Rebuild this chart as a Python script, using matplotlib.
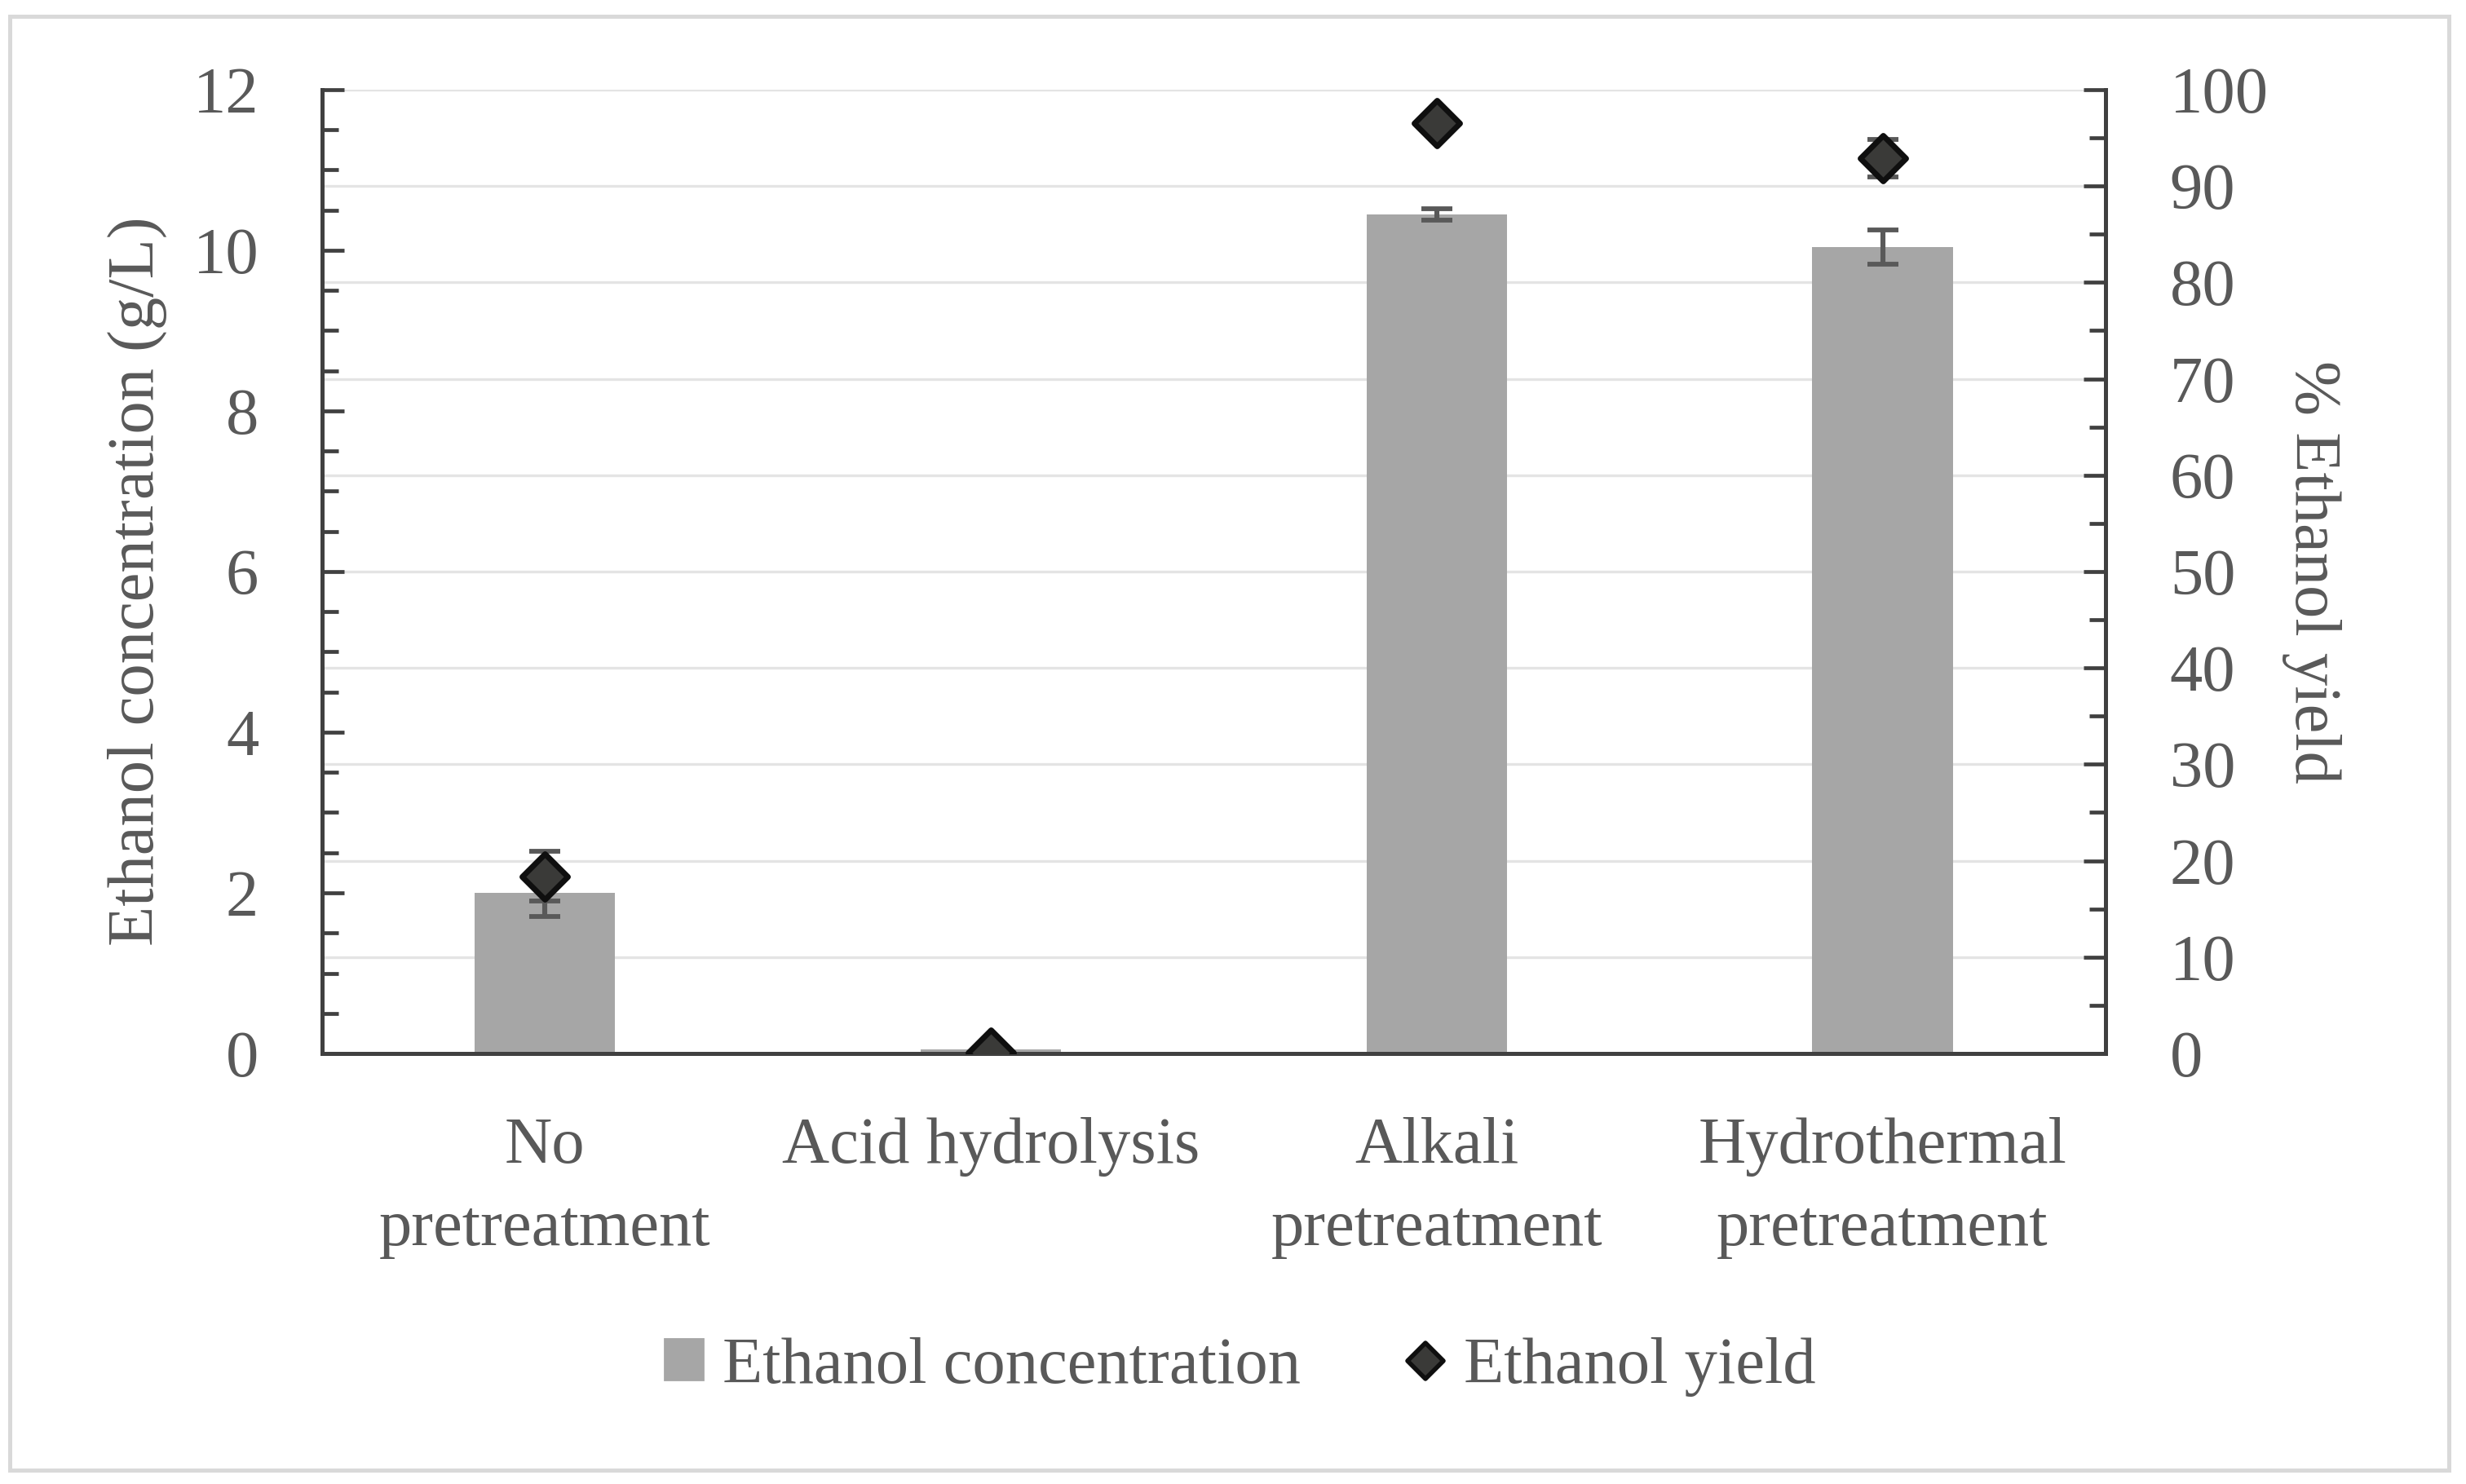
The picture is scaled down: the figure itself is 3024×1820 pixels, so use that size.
import numpy as np
import matplotlib.pyplot as plt
from matplotlib.patches import Rectangle
from matplotlib.lines import Line2D
from matplotlib.markers import MarkerStyle
from matplotlib.ticker import MultipleLocator

# data
categories = ["No\npretreatment", "Acid hydrolysis", "Alkali\npretreatment", "Hydrothermal\npretreatment"]
conc = [2.0, 0.05, 10.45, 10.04]        # g/L
conc_err = [0.29, 0.0, 0.07, 0.21]
yield_pct = [18.4, 0.1, 96.5, 92.9]     # %
yield_err = [2.6, 0.0, 0.5, 1.95]
yield_ticks = np.arange(10, 101, 10)

txt = '#595959'
spine_c = '#404040'
plt.rcParams['font.family'] = ['Liberation Serif', 'DejaVu Serif']
plt.rcParams['font.size'] = 29

fig = plt.figure(figsize=(15.12, 9.1), dpi=200)
ax = fig.add_axes([0.1306, 0.2901, 0.8538 - 0.1306, 0.9396 - 0.2901])
ax2 = ax.twinx()

# outer frame
fig.patches.append(Rectangle((0.004, 0.0095), 0.989, 0.9795, transform=fig.transFigure,
                             fill=False, edgecolor='#d9d9d9', linewidth=1.8))

x = np.arange(len(categories))

# grid follows the right axis major ticks, drawn behind the bars
for v in yield_ticks:
    ax.axhline(v * 12 / 100, color='#e4e4e4', linewidth=1.2, zorder=0)

ax.bar(x, conc, width=0.315, color='#a6a6a6', zorder=2,
       yerr=conc_err, error_kw=dict(ecolor='#595959', elinewidth=2.2, capsize=6.8, capthick=2.1, zorder=3))

diamond = MarkerStyle('D', joinstyle='round')
ax2.errorbar(x, yield_pct, yerr=yield_err, fmt='none', ecolor='#595959',
             elinewidth=2.2, capsize=6.8, capthick=2.1, zorder=3)
ax2.plot(x, yield_pct, linestyle='none', marker=diamond, markersize=14.5,
         markerfacecolor='#3a3a38', markeredgecolor='#0f0f0f', markeredgewidth=2.5, zorder=4)

ax.set_xlim(-0.5, 3.5)
ax.set_ylim(0, 12)
ax2.set_ylim(0, 100)

ax.yaxis.set_major_locator(MultipleLocator(2))
ax.yaxis.set_minor_locator(MultipleLocator(0.5))
ax2.yaxis.set_major_locator(MultipleLocator(10))
ax2.yaxis.set_minor_locator(MultipleLocator(5))

ax.set_xticks(x)
ax.set_xticklabels(categories, linespacing=1.5)
ax.tick_params(axis='x', length=0, pad=28, colors=txt)
ax.tick_params(axis='y', which='major', direction='in', length=9.7, width=1.7, color=spine_c,
               labelcolor=txt, pad=28)
ax.tick_params(axis='y', which='minor', direction='in', length=7.2, width=1.7, color=spine_c)
ax2.tick_params(axis='y', which='major', direction='in', length=9.7, width=1.7, color=spine_c,
                labelcolor=txt, pad=28.4)
ax2.tick_params(axis='y', which='minor', direction='in', length=7.2, width=1.7, color=spine_c)

for a in (ax, ax2):
    a.spines['top'].set_visible(False)
    for s in ('left', 'right', 'bottom'):
        a.spines[s].set_color(spine_c)
        a.spines[s].set_linewidth(1.8)
ax.spines['right'].set_visible(False)
ax2.spines['left'].set_visible(False)
ax2.spines['bottom'].set_visible(False)

ax.set_ylabel('Ethanol concentration (g/L)', color=txt)
ax.yaxis.set_label_coords(-0.087, 0.49)
ax2.yaxis.set_label_position('right')
ax2.set_ylabel('% Ethanol yield', color=txt, rotation=270)
ax2.yaxis.label.set_va('bottom')
ax2.yaxis.set_label_coords(1.0988, 0.5)

handles = [Rectangle((0, 0), 1, 1, color='#a6a6a6'),
           Line2D([], [], linestyle='none', marker=diamond, markersize=11,
                  markerfacecolor='#3a3a38', markeredgecolor='#0f0f0f', markeredgewidth=2.0)]
leg = fig.legend(handles, ['Ethanol concentration', 'Ethanol yield'], loc='center',
                 bbox_to_anchor=(0.503, 0.079), ncol=2, frameon=False,
                 handlelength=0.58, handleheight=0.58, handletextpad=0.3, columnspacing=1.6)
for t in leg.get_texts():
    t.set_color(txt)

fig.savefig('out.png', dpi=200)
